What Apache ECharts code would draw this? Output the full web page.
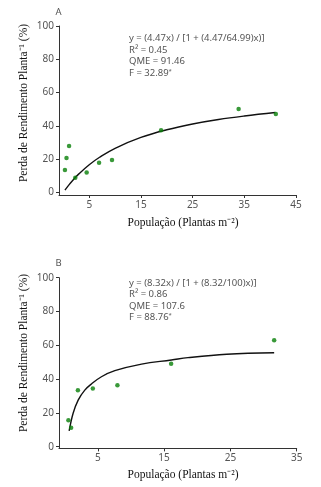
<!DOCTYPE html>
<html><head><meta charset="utf-8">
<script src="https://cdn.jsdelivr.net/npm/echarts@6/dist/echarts.min.js"></script>
<style>html,body{margin:0;padding:0;background:#fff}#c{width:321px;height:487px}</style>
</head><body><div id="c"></div>
<script>
// Panel A data
var popA = [0.3, 0.6, 1.1, 2.3, 4.5, 6.9, 9.4, 18.9, 33.9, 41.1];
var perdaA = [13.4, 20.6, 27.8, 8.8, 12.0, 17.8, 19.4, 37.3, 50.1, 47.1];
var curveXA = [0.3, 1, 2, 3, 5, 7, 10, 15, 20, 25, 30, 35, 41];
var curveYA = [1.3, 4.2, 7.9, 11.1, 16.6, 21.1, 26.5, 33.0, 37.6, 41.1, 43.8, 45.9, 48.0];
// Panel B data
var popB = [0.57, 0.98, 2.0, 4.25, 7.96, 16.06, 31.6];
var perdaB = [15.6, 11.2, 33.4, 34.5, 36.3, 49.1, 63.0];
var curveXB = [0.68, 1.28, 2.04, 3.04, 4.04, 5.55, 7.57, 11.6, 16.1, 18.6, 24.45, 31.6];
var curveYB = [9.3, 19.8, 27.6, 33.5, 37.1, 41.4, 45.0, 48.9, 51.3, 52.7, 54.7, 55.6];
// Ticks
var yTicks = [0, 20, 40, 60, 80, 100];
var xTicksA = [5, 15, 25, 35, 45];
var xTicksB = [5, 15, 25, 35];

var eqA = ['y = (4.47x) / [1 + (4.47/64.99)x)]', 'R² = 0.45', 'QME = 91.46', 'F = 32.89'];
var eqB = ['y = (8.32x) / [1 + (8.32/100)x)]', 'R² = 0.86', 'QME = 107.6', 'F = 88.76'];

var tickFont = 'Noto Sans';
var serif = 'Liberation Serif';
var gray = '#555';

function pairs(xs, ys){ return xs.map(function(x,i){ return [x, ys[i]]; }); }

function xAxis(idx, max, ticks){
  return {
    type:'value', gridIndex: idx, min: -0.85, max: max,
    axisLine:{show:true, onZero:false, lineStyle:{color:'#333', width:1}},
    axisTick:{show:true, customValues: ticks, length:3, lineStyle:{color:'#333'}},
    axisLabel:{customValues: ticks, color: gray, fontFamily: tickFont, fontSize: 10, margin: 5},
    splitLine:{show:false}
  };
}
function yAxis(idx, min){
  return {
    type:'value', gridIndex: idx, min: min, max: 100,
    axisLine:{show:true, onZero:false, lineStyle:{color:'#333', width:1}},
    axisTick:{show:true, customValues: yTicks, length:3, lineStyle:{color:'#333'}},
    axisLabel:{customValues: yTicks, color: gray, fontFamily: tickFont, fontSize: 10, margin: 5},
    splitLine:{show:false}
  };
}
function eqText(lines, x, y0, step){
  return lines.map(function(t, i){
    var isF = i === lines.length - 1;
    return {
      type:'text', x: x, y: y0 + i*step,
      style:{
        text: isF ? '{n|' + t + '}{s|*}' : t,
        fill: gray, font: '9.5px "' + tickFont + '"',
        textVerticalAlign:'middle',
        rich: isF ? {n:{fill:gray, fontSize:9.5, fontFamily:tickFont}, s:{fill:gray, fontSize:6, fontFamily:tickFont, verticalAlign:'top', padding:[0,0,4,0]}} : undefined
      }
    };
  });
}
function vTitle(cx, cy){
  return {type:'text', x: cx, y: cy, rotation: Math.PI/2,
    style:{text:'Perda de Rendimento Planta⁻¹ (%)', fill:'#111', font:'11.5px "' + serif + '"', textAlign:'center', textVerticalAlign:'middle'}};
}
function hTitle(cx, cy){
  return {type:'text', x: cx, y: cy,
    style:{text:'População (Plantas m⁻²)', fill:'#111', font:'11.5px "' + serif + '"', textAlign:'center', textVerticalAlign:'middle'}};
}

var chart = echarts.init(document.getElementById('c'), null, {renderer:'canvas'});
var graphics = [
  {type:'text', x:58.5, y:12.5, style:{text:'A', fill:gray, font:'9.5px "' + tickFont + '"', textAlign:'center', textVerticalAlign:'middle'}},
  {type:'text', x:58.5, y:263.5, style:{text:'B', fill:gray, font:'9.5px "' + tickFont + '"', textAlign:'center', textVerticalAlign:'middle'}},
  vTitle(24, 103), hTitle(183, 223),
  vTitle(24, 353), hTitle(183, 475)
].concat(eqText(eqA, 129, 38.7, 11.5)).concat(eqText(eqB, 129, 283.3, 11.3));

chart.setOption({
  animation:false,
  grid:[
    {left:59, top:26, width:237, height:169},
    {left:59, top:277.7, width:237.7, height:170.7}
  ],
  xAxis:[xAxis(0, 45, xTicksA), xAxis(1, 35, xTicksB)],
  yAxis:[yAxis(0, -1.6), yAxis(1, -1)],
  graphic: graphics,
  series:[
    {type:'line', xAxisIndex:0, yAxisIndex:0, data: pairs(curveXA, curveYA), smooth:0.4, showSymbol:false, lineStyle:{color:'#111', width:1.4}, z:2},
    {type:'scatter', xAxisIndex:0, yAxisIndex:0, data: pairs(popA, perdaA), symbolSize:4.5, itemStyle:{color:'#078007'}, z:3},
    {type:'line', xAxisIndex:1, yAxisIndex:1, data: pairs(curveXB, curveYB), smooth:0.4, showSymbol:false, lineStyle:{color:'#111', width:1.4}, z:2},
    {type:'scatter', xAxisIndex:1, yAxisIndex:1, data: pairs(popB, perdaB), symbolSize:4.5, itemStyle:{color:'#078007'}, z:3}
  ]
});
</script></body></html>
